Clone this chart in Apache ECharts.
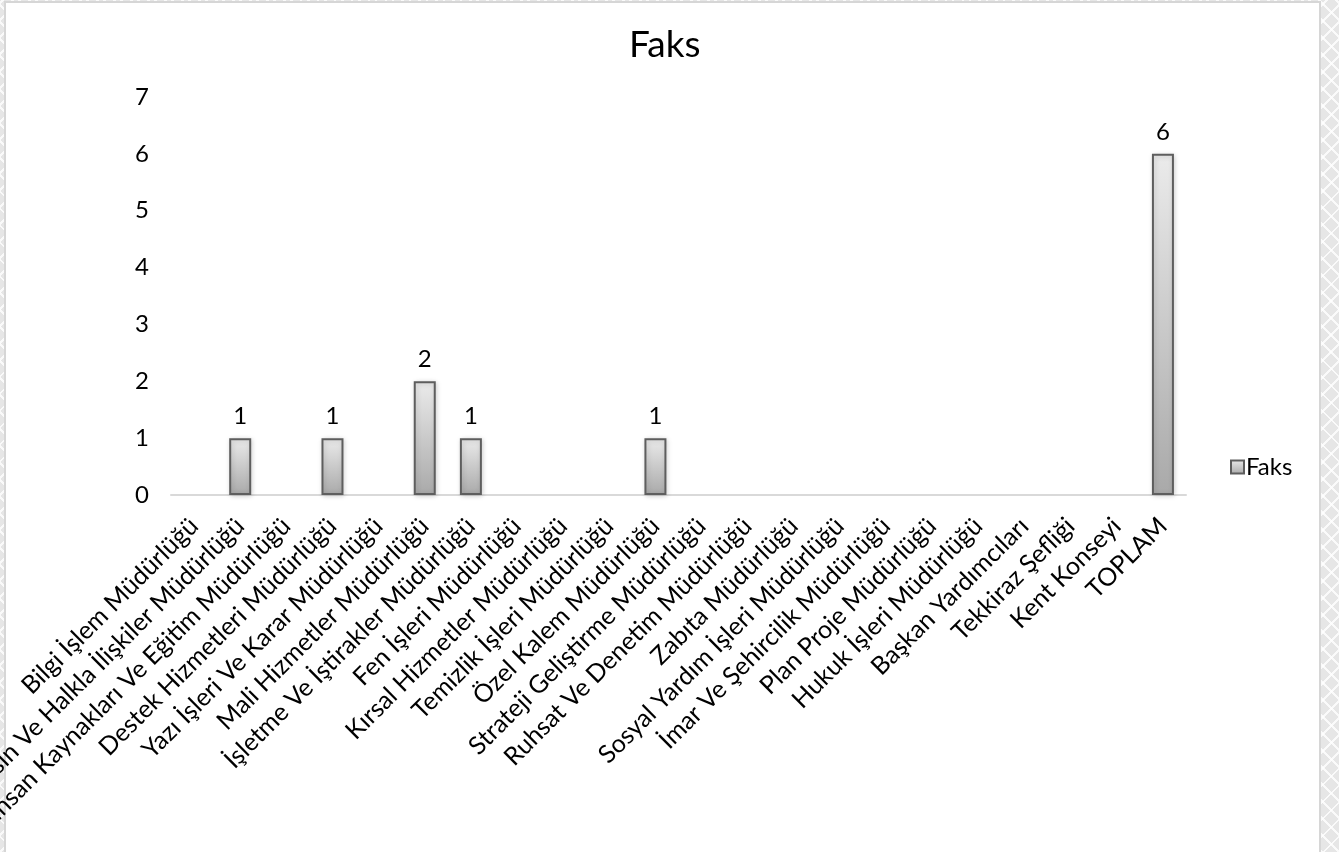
<!DOCTYPE html>
<html>
<head>
<meta charset="utf-8">
<script src="https://cdn.jsdelivr.net/npm/echarts@6/dist/echarts.min.js"></script>
<style>
  html, body { margin: 0; padding: 0; width: 1339px; height: 852px; overflow: hidden; }
  body {
    background-color: #e6e6e6;
    background-image:
      repeating-linear-gradient(45deg, rgba(255,255,255,0) 0px, rgba(255,255,255,0) 10px, rgba(255,255,255,0.8) 10px, rgba(255,255,255,0.8) 12px),
      repeating-linear-gradient(-45deg, rgba(255,255,255,0) 0px, rgba(255,255,255,0) 10px, rgba(255,255,255,0.8) 10px, rgba(255,255,255,0.8) 12px);
    position: relative;
  }
  #panel { position: absolute; left: 4px; top: 1px; width: 1313px; height: 870px; background: #fff; border: 2px solid #d6d6d6; }
  #chart { position: absolute; left: 0; top: 0; width: 1339px; height: 852px; }
</style>
</head>
<body>
<div id="panel"></div>
<div id="chart"></div>
<script>
const chartTitle = 'Faks';
const seriesName = 'Faks';
const categories = [
  'Bilgi İşlem Müdürlüğü',
  'Basın Ve Halkla İlişkiler Müdürlüğü',
  'İnsan Kaynakları Ve Eğitim Müdürlüğü',
  'Destek Hizmetleri Müdürlüğü',
  'Yazı İşleri Ve Karar Müdürlüğü',
  'Mali Hizmetler Müdürlüğü',
  'İşletme Ve İştirakler Müdürlüğü',
  'Fen İşleri Müdürlüğü',
  'Kırsal Hizmetler Müdürlüğü',
  'Temizlik İşleri Müdürlüğü',
  'Özel Kalem Müdürlüğü',
  'Strateji Geliştirme Müdürlüğü',
  'Ruhsat Ve Denetim Müdürlüğü',
  'Zabıta Müdürlüğü',
  'Sosyal Yardım İşleri Müdürlüğü',
  'İmar Ve Şehircilik Müdürlüğü',
  'Plan Proje Müdürlüğü',
  'Hukuk İşleri Müdürlüğü',
  'Başkan Yardımcıları',
  'Tekkiraz Şefliği',
  'Kent Konseyi',
  'TOPLAM'
];
const values = [0, 1, 0, 1, 0, 2, 1, 0, 0, 0, 1, 0, 0, 0, 0, 0, 0, 0, 0, 0, 0, 6];
const yTicks = [0, 1, 2, 3, 4, 5, 6, 7];

const FONT = 'Lato, "Open Sans", sans-serif';
const chart = echarts.init(document.getElementById('chart'), null, { renderer: 'canvas' });
const barGradient = new echarts.graphic.LinearGradient(0, 0, 0, 1, [
  { offset: 0, color: '#ebebeb' },
  { offset: 1, color: '#a9a9a9' }
]);
chart.setOption({
  backgroundColor: 'transparent',
  animation: false,
  title: {
    text: chartTitle,
    left: 624,
    top: 22,
    textStyle: { fontFamily: FONT, fontSize: 37, fontWeight: 'normal', color: '#000' }
  },
  legend: {
    data: [seriesName],
    left: 1225,
    top: 450,
    orient: 'vertical',
    icon: 'rect',
    itemWidth: 13,
    itemHeight: 13,
    itemGap: 6,
    textStyle: { fontFamily: FONT, fontSize: 24, color: '#000', padding: [0, 0, 0, -3] }
  },
  grid: { left: 171, right: 153, top: 97, bottom: 357, containLabel: false, outerBoundsMode: 'none' },
  xAxis: {
    type: 'category',
    data: categories,
    axisLine: { show: true, lineStyle: { color: '#d9d9d9', width: 2 } },
    axisTick: { show: false },
    axisLabel: {
      interval: 0,
      rotate: 45,
      margin: 27,
      align: 'right',
      verticalAlign: 'middle',
      fontFamily: FONT,
      fontSize: 25,
      color: '#000'
    }
  },
  yAxis: {
    type: 'value',
    min: yTicks[0],
    max: yTicks[yTicks.length - 1],
    interval: 1,
    splitLine: { show: false },
    axisLine: { show: false },
    axisTick: { show: false },
    axisLabel: { fontFamily: FONT, fontSize: 24, color: '#000', margin: 22 }
  },
  series: [{
    name: seriesName,
    type: 'bar',
    data: values.map(v => (v === 0 ? null : v)),
    barWidth: 22,
    itemStyle: {
      color: barGradient,
      borderColor: '#5e5e5e',
      borderWidth: 2,
      shadowBlur: 5,
      shadowColor: 'rgba(0,0,0,0.18)',
      shadowOffsetX: 1,
      shadowOffsetY: 1
    },
    label: {
      show: true,
      position: 'top',
      distance: 10,
      fontFamily: FONT,
      fontSize: 24,
      color: '#000',
      formatter: p => (p.value ? String(p.value) : '')
    }
  }]
});
</script>
</body>
</html>
